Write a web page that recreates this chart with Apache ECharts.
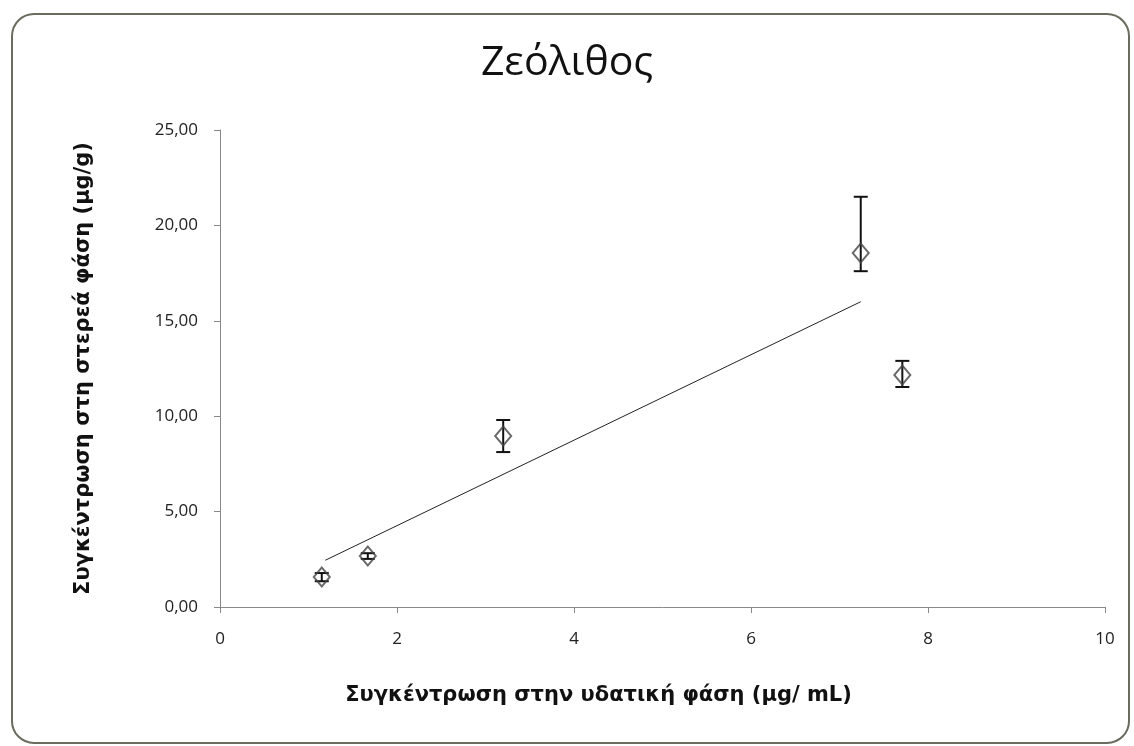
<!DOCTYPE html>
<html>
<head>
<meta charset="utf-8">
<script src="https://cdn.jsdelivr.net/npm/echarts@6/dist/echarts.min.js"></script>
<style>
  html, body { margin: 0; padding: 0; background: #fff; }
  #main { width: 1134px; height: 746px; }
</style>
</head>
<body>
<div id="main"></div>
<script>
// data
const xValues = [1.15, 1.67, 3.2, 7.24, 7.71];
const yValues = [1.57, 2.67, 8.96, 18.55, 12.16];
const errLow = [1.35, 2.52, 8.12, 17.6, 11.53];
const errHigh = [1.78, 2.82, 9.8, 21.5, 12.9];
const trendX = [1.19, 7.24];
const trendY = [2.45, 16.0];
const yTicks = [0, 5, 10, 15, 20, 25];

const points = xValues.map((x, i) => [x, yValues[i]]);
const errors = xValues.map((x, i) => [x, errLow[i], errHigh[i]]);
const trend = trendX.map((x, i) => [x, trendY[i]]);

let myChart = echarts.init(document.getElementById("main"));
myChart.setOption({
  backgroundColor: "#fff",
  animation: false,
  title: {
    text: "Ζεόλιθος",
    left: "center",
    top: 38,
    textStyle: { fontFamily: "Open Sans", fontSize: 41, fontWeight: "normal", color: "#111" },
  },
  graphic: [
    {
      type: "rect",
      shape: { x: 12, y: 14, width: 1117, height: 729, r: 22 },
      style: { fill: "none", stroke: "#6b6b60", lineWidth: 2 },
      z: -1,
    },
  ],
  grid: { left: 220, right: 29, top: 130, bottom: 139 },
  xAxis: {
    type: "value",
    min: 0,
    max: 10,
    interval: 2,
    splitLine: { show: false },
    axisLine: { lineStyle: { color: "#888" } },
    axisTick: { show: true, inside: false, length: 6, lineStyle: { color: "#888" } },
    axisLabel: { color: "#222", fontSize: 17, margin: 24, fontFamily: "Open Sans" },
    name: "Συγκέντρωση στην υδατική φάση (μg/ mL)",
    nameLocation: "middle",
    nameGap: 78,
    nameTextStyle: {
      fontFamily: "DejaVu Sans",
      fontSize: 21,
      fontWeight: "bold",
      color: "#111",
      padding: [0, 128, 0, 0],
    },
  },
  yAxis: {
    type: "value",
    min: 0,
    max: 25,
    interval: 5,
    splitLine: { show: false },
    axisLine: { show: true, lineStyle: { color: "#888" } },
    axisTick: { show: true, length: 6, lineStyle: { color: "#888" } },
    axisLabel: {
      color: "#222",
      fontSize: 17,
      margin: 22,
      fontFamily: "Open Sans",
      formatter: (v) => (yTicks.indexOf(v) >= 0 ? v.toFixed(2).replace(".", ",") : ""),
    },
    name: "Συγκέντρωση στη στερεά φάση (μg/g)",
    nameLocation: "middle",
    nameGap: 126,
    nameTextStyle: { fontFamily: "DejaVu Sans", fontSize: 21, fontWeight: "bold", color: "#111" },
  },
  series: [
    {
      type: "line",
      data: trend,
      symbol: "none",
      lineStyle: { color: "#222", width: 1 },
      z: 1,
    },
    {
      type: "custom",
      data: errors,
      z: 3,
      renderItem: function (params, api) {
        const x = api.value(0);
        const lo = api.coord([x, api.value(1)]);
        const hi = api.coord([x, api.value(2)]);
        const w = 7;
        const style = { stroke: "#111", lineWidth: 2 };
        return {
          type: "group",
          children: [
            { type: "line", shape: { x1: lo[0], y1: lo[1], x2: hi[0], y2: hi[1] }, style: style },
            { type: "line", shape: { x1: lo[0] - w, y1: lo[1], x2: lo[0] + w, y2: lo[1] }, style: style },
            { type: "line", shape: { x1: hi[0] - w, y1: hi[1], x2: hi[0] + w, y2: hi[1] }, style: style },
          ],
        };
      },
    },
    {
      type: "scatter",
      data: points,
      symbol: "diamond",
      symbolSize: [16, 19],
      itemStyle: { color: "rgba(255,255,255,0)", borderColor: "#444", borderWidth: 2 },
      z: 4,
    },
  ],
});
</script>
</body>
</html>
